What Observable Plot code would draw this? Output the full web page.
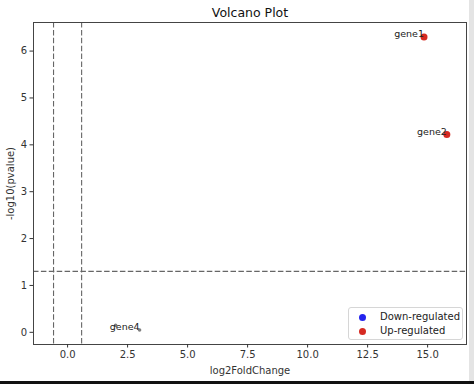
<!DOCTYPE html>
<html>
<head>
<meta charset="utf-8">
<script src="https://cdn.jsdelivr.net/npm/d3@7"></script>
<script src="https://cdn.jsdelivr.net/npm/@observablehq/plot@0.6"></script>
<style>
  html, body { margin: 0; padding: 0; background: #fff; }
  #wrap { position: relative; width: 474px; height: 384px; overflow: hidden; font-family: "DejaVu Sans", sans-serif; }
  #legend { position: absolute; left: 348px; top: 307px; width: 113px; height: 31px; border: 1px solid #d6d6d6; border-radius: 3px; background: rgba(255,255,255,0.85); font-size: 10px; color: #222; }
  #legend .row { position: absolute; left: 0; height: 14px; line-height: 14px; }
  #legend .dot { position: absolute; left: 10px; top: 3.5px; width: 7px; height: 7px; border-radius: 50%; }
  #legend .lab { position: absolute; left: 31px; white-space: nowrap; }
  #rstrip { position: absolute; left: 469px; top: 0; width: 5px; height: 384px; background: #e4e4e4; }
  #bstrip { position: absolute; left: 0; top: 381px; width: 474px; height: 3px; background: #111; }
</style>
</head>
<body>
<div id="wrap"></div>
<script>
const genes = ["gene1", "gene2", "gene3", "gene4"];
const log2FC = [14.85, 15.8, 2.0, 3.0];
const negLogP = [6.30, 4.22, 0.15, 0.05];
const labels = ["gene1", "gene2", "", "gene4"];
const status = ["Up-regulated", "Up-regulated", "NS", "NS"];
const fcThresholds = [-0.585, 0.585];
const pThresholds = [1.301];
const xTicks = [0, 2.5, 5, 7.5, 10, 12.5, 15];
const yTicks = [0, 1, 2, 3, 4, 5, 6];
const legendCats = ["Down-regulated", "Up-regulated"];
const colors = {"Down-regulated": "#2424ee", "Up-regulated": "#d62a22", "NS": "#808080"};

const data = genes.map((g, i) => ({gene: g, x: log2FC[i], y: negLogP[i], label: labels[i], status: status[i]}));
const sig = data.filter(d => d.status !== "NS");
const ns = data.filter(d => d.status === "NS");

const plot = Plot.plot({
  width: 474,
  height: 384,
  marginTop: 22,
  marginBottom: 40,
  marginLeft: 33,
  marginRight: 8,
  style: {fontFamily: "DejaVu Sans, sans-serif", fontSize: "10px", color: "#333", background: "#fff"},
  x: {domain: [-1.42, 16.62]},
  y: {domain: [-0.26, 6.61]},
  marks: [
    Plot.ruleX(fcThresholds, {stroke: "#666", strokeWidth: 1.1, strokeDasharray: "5.5,2.4"}),
    Plot.ruleY(pThresholds, {stroke: "#666", strokeWidth: 1.1, strokeDasharray: "5.5,2.4"}),
    Plot.dot(ns, {x: "x", y: "y", r: 1.8, fill: colors.NS, stroke: null}),
    Plot.dot(sig, {x: "x", y: "y", r: 3.5, fill: d => colors[d.status], stroke: null}),
    Plot.text(data.filter(d => d.label), {x: "x", y: "y", text: "label", textAnchor: "end", dy: -3, fontSize: 9.5, fill: "#222"}),
    Plot.frame({stroke: "#444"}),
    Plot.axisX(xTicks, {tickSize: 3.5, tickPadding: 3, tickFormat: d => d.toFixed(1), label: "log2FoldChange", labelAnchor: "center", labelArrow: "none", labelOffset: 29, fontSize: 10}),
    Plot.axisY(yTicks, {tickSize: 3.5, tickPadding: 3, tickFormat: d => String(d), label: "-log10(pvalue)", labelAnchor: "center", labelArrow: "none", labelOffset: 27, fontSize: 10}),
    Plot.text(["Volcano Plot"], {frameAnchor: "top", dy: -14, fontSize: 12.5, fill: "#111"})
  ]
});

const wrap = document.getElementById("wrap");
wrap.appendChild(plot);

const legend = document.createElement("div");
legend.id = "legend";
legendCats.forEach((c, i) => {
  const row = document.createElement("div");
  row.className = "row";
  row.style.top = (2 + i * 14) + "px";
  row.style.width = "100%";
  const dot = document.createElement("span");
  dot.className = "dot";
  dot.style.background = colors[c];
  const lab = document.createElement("span");
  lab.className = "lab";
  lab.textContent = c;
  row.appendChild(dot);
  row.appendChild(lab);
  legend.appendChild(row);
});
wrap.appendChild(legend);

const r = document.createElement("div"); r.id = "rstrip"; wrap.appendChild(r);
const b = document.createElement("div"); b.id = "bstrip"; wrap.appendChild(b);
</script>
</body>
</html>
